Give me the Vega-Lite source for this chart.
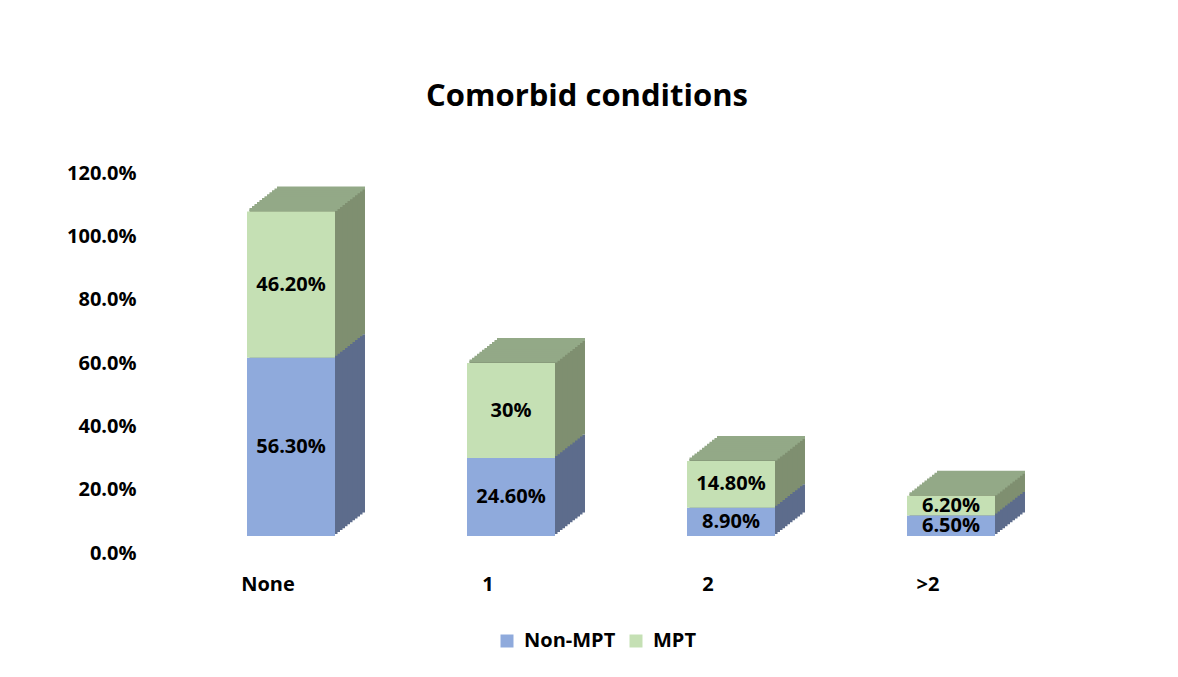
{
  "$schema": "https://vega.github.io/schema/vega-lite/v6.json",
  "autosize": {"type": "none"},
  "padding": {"left": 181, "top": 173, "right": 117, "bottom": 124},
  "width": 880,
  "height": 380,
  "background": "#ffffff",
  "config": {
    "view": {"stroke": null},
    "font": "Open Sans",
    "axis": {"grid": false, "domain": false, "ticks": false, "labelFont": "Open Sans", "labelFontWeight": "bold", "labelFontSize": 20, "labelColor": "#000000"}
  },
  "title": {"text": "Comorbid conditions", "fontSize": 31, "font": "Open Sans", "fontWeight": "bold", "color": "#000000", "anchor": "middle", "dx": -34, "offset": 50},
  "data": {
    "values": [
      {"cat": "None", "series": "Non-MPT", "value": 56.3, "label": "56.30%"},
      {"cat": "None", "series": "MPT", "value": 46.2, "label": "46.20%"},
      {"cat": "1", "series": "Non-MPT", "value": 24.6, "label": "24.60%"},
      {"cat": "1", "series": "MPT", "value": 30, "label": "30%"},
      {"cat": "2", "series": "Non-MPT", "value": 8.9, "label": "8.90%"},
      {"cat": "2", "series": "MPT", "value": 14.8, "label": "14.80%"},
      {"cat": ">2", "series": "Non-MPT", "value": 6.5, "label": "6.50%"},
      {"cat": ">2", "series": "MPT", "value": 6.2, "label": "6.20%"}
    ]
  },
  "transform": [
    {"stack": "value", "groupby": ["cat"], "sort": [{"field": "series", "order": "descending"}], "as": ["v0", "v1"]},
    {"calculate": "(datum.v0 + datum.v1) / 2", "as": "vm"}
  ],
  "encoding": {
    "x": {"field": "cat", "type": "nominal", "sort": ["None", "1", "2", ">2"], "title": null,
      "scale": {"paddingInner": 0.6, "paddingOuter": 0.3},
      "axis": {"labelAngle": 0, "labelPadding": 21, "labelOffset": -23}}
  },
  "layer": [
    {"mark": {"type": "bar", "xOffset": 30, "x2Offset": 30, "yOffset": -40.5, "y2Offset": -40.5}, "encoding": {"y": {"field": "v1", "type": "quantitative", "title": null, "scale": {"domain": [0, 120], "nice": false}, "axis": {"values": [0, 20, 40, 60, 80, 100, 120], "labelExpr": "format(datum.value, '.1f') + '%'", "labelPadding": 45}}, "y2": {"field": "v0"}, "color": {"condition": {"test": "datum.series === 'MPT'", "value": "#7f8f70"}, "value": "#5d6c8c"}}},
    {"mark": {"type": "bar", "xOffset": 27.5, "x2Offset": 27.5, "yOffset": -38.5, "y2Offset": -38.5}, "encoding": {"y": {"field": "v1", "type": "quantitative", "title": null}, "y2": {"field": "v0"}, "color": {"condition": {"test": "datum.series === 'MPT'", "value": "#7f8f70"}, "value": "#5d6c8c"}}},
    {"mark": {"type": "bar", "xOffset": 25, "x2Offset": 25, "yOffset": -36.6, "y2Offset": -36.6}, "encoding": {"y": {"field": "v1", "type": "quantitative", "title": null}, "y2": {"field": "v0"}, "color": {"condition": {"test": "datum.series === 'MPT'", "value": "#7f8f70"}, "value": "#5d6c8c"}}},
    {"mark": {"type": "bar", "xOffset": 22.5, "x2Offset": 22.5, "yOffset": -34.6, "y2Offset": -34.6}, "encoding": {"y": {"field": "v1", "type": "quantitative", "title": null}, "y2": {"field": "v0"}, "color": {"condition": {"test": "datum.series === 'MPT'", "value": "#7f8f70"}, "value": "#5d6c8c"}}},
    {"mark": {"type": "bar", "xOffset": 20, "x2Offset": 20, "yOffset": -32.7, "y2Offset": -32.7}, "encoding": {"y": {"field": "v1", "type": "quantitative", "title": null}, "y2": {"field": "v0"}, "color": {"condition": {"test": "datum.series === 'MPT'", "value": "#7f8f70"}, "value": "#5d6c8c"}}},
    {"mark": {"type": "bar", "xOffset": 17.5, "x2Offset": 17.5, "yOffset": -30.7, "y2Offset": -30.7}, "encoding": {"y": {"field": "v1", "type": "quantitative", "title": null}, "y2": {"field": "v0"}, "color": {"condition": {"test": "datum.series === 'MPT'", "value": "#7f8f70"}, "value": "#5d6c8c"}}},
    {"mark": {"type": "bar", "xOffset": 15, "x2Offset": 15, "yOffset": -28.8, "y2Offset": -28.8}, "encoding": {"y": {"field": "v1", "type": "quantitative", "title": null}, "y2": {"field": "v0"}, "color": {"condition": {"test": "datum.series === 'MPT'", "value": "#7f8f70"}, "value": "#5d6c8c"}}},
    {"mark": {"type": "bar", "xOffset": 12.5, "x2Offset": 12.5, "yOffset": -26.8, "y2Offset": -26.8}, "encoding": {"y": {"field": "v1", "type": "quantitative", "title": null}, "y2": {"field": "v0"}, "color": {"condition": {"test": "datum.series === 'MPT'", "value": "#7f8f70"}, "value": "#5d6c8c"}}},
    {"mark": {"type": "bar", "xOffset": 10, "x2Offset": 10, "yOffset": -24.8, "y2Offset": -24.8}, "encoding": {"y": {"field": "v1", "type": "quantitative", "title": null}, "y2": {"field": "v0"}, "color": {"condition": {"test": "datum.series === 'MPT'", "value": "#7f8f70"}, "value": "#5d6c8c"}}},
    {"mark": {"type": "bar", "xOffset": 7.5, "x2Offset": 7.5, "yOffset": -22.9, "y2Offset": -22.9}, "encoding": {"y": {"field": "v1", "type": "quantitative", "title": null}, "y2": {"field": "v0"}, "color": {"condition": {"test": "datum.series === 'MPT'", "value": "#7f8f70"}, "value": "#5d6c8c"}}},
    {"mark": {"type": "bar", "xOffset": 5, "x2Offset": 5, "yOffset": -20.9, "y2Offset": -20.9}, "encoding": {"y": {"field": "v1", "type": "quantitative", "title": null}, "y2": {"field": "v0"}, "color": {"condition": {"test": "datum.series === 'MPT'", "value": "#7f8f70"}, "value": "#5d6c8c"}}},
    {"mark": {"type": "bar", "xOffset": 2.5, "x2Offset": 2.5, "yOffset": -19, "y2Offset": -19}, "encoding": {"y": {"field": "v1", "type": "quantitative", "title": null}, "y2": {"field": "v0"}, "color": {"condition": {"test": "datum.series === 'MPT'", "value": "#7f8f70"}, "value": "#5d6c8c"}}},
    {"transform": [{"filter": "datum.series === 'MPT'"}], "mark": {"type": "tick", "size": 88, "thickness": 3, "color": "#93a987", "opacity": 1, "xOffset": 30, "yOffset": -40.5}, "encoding": {"y": {"field": "v1", "type": "quantitative", "title": null}}},
    {"transform": [{"filter": "datum.series === 'MPT'"}], "mark": {"type": "tick", "size": 88, "thickness": 3, "color": "#93a987", "opacity": 1, "xOffset": 27.5, "yOffset": -38.5}, "encoding": {"y": {"field": "v1", "type": "quantitative", "title": null}}},
    {"transform": [{"filter": "datum.series === 'MPT'"}], "mark": {"type": "tick", "size": 88, "thickness": 3, "color": "#93a987", "opacity": 1, "xOffset": 25, "yOffset": -36.6}, "encoding": {"y": {"field": "v1", "type": "quantitative", "title": null}}},
    {"transform": [{"filter": "datum.series === 'MPT'"}], "mark": {"type": "tick", "size": 88, "thickness": 3, "color": "#93a987", "opacity": 1, "xOffset": 22.5, "yOffset": -34.6}, "encoding": {"y": {"field": "v1", "type": "quantitative", "title": null}}},
    {"transform": [{"filter": "datum.series === 'MPT'"}], "mark": {"type": "tick", "size": 88, "thickness": 3, "color": "#93a987", "opacity": 1, "xOffset": 20, "yOffset": -32.7}, "encoding": {"y": {"field": "v1", "type": "quantitative", "title": null}}},
    {"transform": [{"filter": "datum.series === 'MPT'"}], "mark": {"type": "tick", "size": 88, "thickness": 3, "color": "#93a987", "opacity": 1, "xOffset": 17.5, "yOffset": -30.7}, "encoding": {"y": {"field": "v1", "type": "quantitative", "title": null}}},
    {"transform": [{"filter": "datum.series === 'MPT'"}], "mark": {"type": "tick", "size": 88, "thickness": 3, "color": "#93a987", "opacity": 1, "xOffset": 15, "yOffset": -28.8}, "encoding": {"y": {"field": "v1", "type": "quantitative", "title": null}}},
    {"transform": [{"filter": "datum.series === 'MPT'"}], "mark": {"type": "tick", "size": 88, "thickness": 3, "color": "#93a987", "opacity": 1, "xOffset": 12.5, "yOffset": -26.8}, "encoding": {"y": {"field": "v1", "type": "quantitative", "title": null}}},
    {"transform": [{"filter": "datum.series === 'MPT'"}], "mark": {"type": "tick", "size": 88, "thickness": 3, "color": "#93a987", "opacity": 1, "xOffset": 10, "yOffset": -24.8}, "encoding": {"y": {"field": "v1", "type": "quantitative", "title": null}}},
    {"transform": [{"filter": "datum.series === 'MPT'"}], "mark": {"type": "tick", "size": 88, "thickness": 3, "color": "#93a987", "opacity": 1, "xOffset": 7.5, "yOffset": -22.9}, "encoding": {"y": {"field": "v1", "type": "quantitative", "title": null}}},
    {"transform": [{"filter": "datum.series === 'MPT'"}], "mark": {"type": "tick", "size": 88, "thickness": 3, "color": "#93a987", "opacity": 1, "xOffset": 5, "yOffset": -20.9}, "encoding": {"y": {"field": "v1", "type": "quantitative", "title": null}}},
    {"transform": [{"filter": "datum.series === 'MPT'"}], "mark": {"type": "tick", "size": 88, "thickness": 3, "color": "#93a987", "opacity": 1, "xOffset": 2.5, "yOffset": -19}, "encoding": {"y": {"field": "v1", "type": "quantitative", "title": null}}},
    {"mark": {"type": "bar", "yOffset": -17, "y2Offset": -17}, "encoding": {"y": {"field": "v1", "type": "quantitative", "title": null}, "y2": {"field": "v0"},
      "color": {"field": "series", "type": "nominal", "scale": {"domain": ["Non-MPT", "MPT"], "range": ["#8faadc", "#c5e0b4"]},
        "legend": {"orient": "none", "legendX": 316, "legendY": 458, "direction": "horizontal", "title": null, "symbolType": "square", "symbolSize": 169, "symbolStrokeWidth": 0, "labelFontSize": 20, "labelFontWeight": "bold", "labelFont": "Open Sans", "labelColor": "#000000", "columnSpacing": 21, "padding": 0, "labelOffset": 7}}}},
    {"mark": {"type": "text", "fontSize": 20, "fontWeight": "bold", "font": "Open Sans", "color": "#000000", "yOffset": -17}, "encoding": {"y": {"field": "vm", "type": "quantitative", "title": null}, "text": {"field": "label"}}}
  ]
}
